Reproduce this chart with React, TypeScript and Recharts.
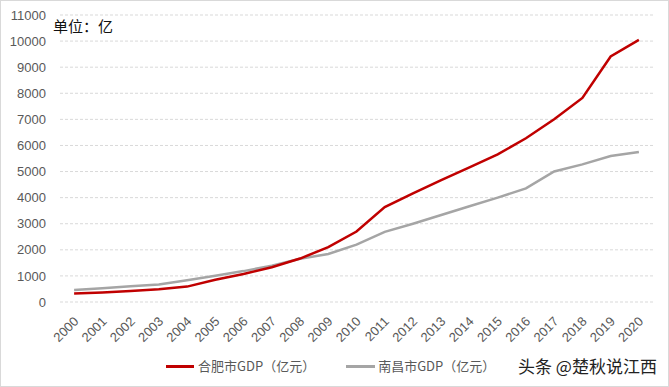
import React from "react";
import { LineChart, Line, XAxis, YAxis, CartesianGrid } from "recharts";

const years = [
  "2000", "2001", "2002", "2003", "2004", "2005", "2006", "2007", "2008", "2009", "2010",
  "2011", "2012", "2013", "2014", "2015", "2016", "2017", "2018", "2019", "2020",
];
const hefei = [
  325, 364, 421, 485, 590, 853, 1073, 1334, 1665, 2102, 2702,
  3637, 4164, 4673, 5158, 5660, 6274, 7003, 7823, 9409, 10046,
];
const nanchang = [
  460, 530, 600, 670, 830, 1008, 1184, 1390, 1660, 1838, 2200,
  2689, 3000, 3336, 3668, 4000, 4355, 5003, 5275, 5596, 5746,
];
const yTicks = [0, 1000, 2000, 3000, 4000, 5000, 6000, 7000, 8000, 9000, 10000, 11000];

const data = years.map((y, i) => ({ idx: i, year: y, hefei: hefei[i], nanchang: nanchang[i] }));
const centerTicks = years.map((_, i) => i);
const edgeTicks = [...years.map((_, i) => i - 0.5), years.length - 0.5];

const RED = "#C00000";
const GRAY = "#A5A5A5";
const LABEL = "#595959";
const FONT = "'Liberation Sans', Arial, 'Noto Sans CJK SC', sans-serif";
const CJK = "'Noto Sans CJK SC', 'Liberation Sans', sans-serif";

const YearTick = (props: any) => {
  const { x, y, payload } = props;
  const ax = x + 2;
  const ay = y + 9;
  return (
    <text
      x={ax}
      y={ay}
      transform={`rotate(-45 ${ax} ${ay})`}
      textAnchor="end"
      fontSize={13}
      fill={LABEL}
      fontFamily={FONT}
      dominantBaseline="central"
    >
      {years[payload.value]}
    </text>
  );
};

export default function App() {
  return (
    <div
      style={{
        position: "absolute",
        left: 0,
        top: 0,
        width: 669,
        height: 387,
        boxSizing: "border-box",
        border: "1px solid #d9d9d9",
        background: "#fff",
        fontFamily: CJK,
      }}
    >
      <div style={{ position: "absolute", left: -1, top: -1 }}>
        <LineChart
          width={669}
          height={387}
          data={data}
          margin={{ top: 15, right: 16, left: 0, bottom: 35 }}
        >
          <CartesianGrid vertical={false} stroke="#d9d9d9" strokeDasharray="3 2" />
          <XAxis
            xAxisId="edge"
            dataKey="idx"
            type="number"
            domain={[-0.5, years.length - 0.5]}
            ticks={edgeTicks}
            tick={false}
            height={0}
            tickSize={4}
            tickLine={{ stroke: "#d9d9d9" }}
            axisLine={{ stroke: "#d9d9d9" }}
          />
          <XAxis
            xAxisId="main"
            dataKey="idx"
            type="number"
            domain={[-0.5, years.length - 0.5]}
            ticks={centerTicks}
            interval={0}
            tick={<YearTick />}
            tickLine={false}
            axisLine={false}
            height={50}
          />
          <YAxis
            domain={[0, 11000]}
            ticks={yTicks}
            width={60}
            axisLine={false}
            tickLine={false}
            tickSize={6}
            tickMargin={8}
            interval={0}
            tick={{ fontSize: 13, fill: LABEL, fontFamily: FONT }}
          />
          <Line
            xAxisId="main"
            dataKey="nanchang"
            stroke={GRAY}
            strokeWidth={2.5}
            dot={false}
            isAnimationActive={false}
          />
          <Line
            xAxisId="main"
            dataKey="hefei"
            stroke={RED}
            strokeWidth={2.5}
            dot={false}
            isAnimationActive={false}
          />
        </LineChart>
      </div>

      <div style={{ position: "absolute", left: 52, top: 16, fontSize: 15, color: "#111", lineHeight: "18px" }}>
        单位：亿
      </div>

      <div
        style={{
          position: "absolute",
          left: 165,
          top: 357,
          display: "flex",
          alignItems: "center",
          fontSize: 13,
          color: LABEL,
          lineHeight: "16px",
        }}
      >
        <span style={{ display: "inline-block", width: 28, height: 3, background: RED, marginRight: 4 }} />
        <span>合肥市GDP（亿元）</span>
        <span style={{ display: "inline-block", width: 29, height: 3, background: GRAY, marginLeft: 31, marginRight: 3 }} />
        <span>南昌市GDP（亿元）</span>
      </div>

      <div style={{ position: "absolute", left: 517, top: 354, fontSize: 17, color: "#222", lineHeight: "22px" }}>
        头条 @楚秋说江西
      </div>
    </div>
  );
}
